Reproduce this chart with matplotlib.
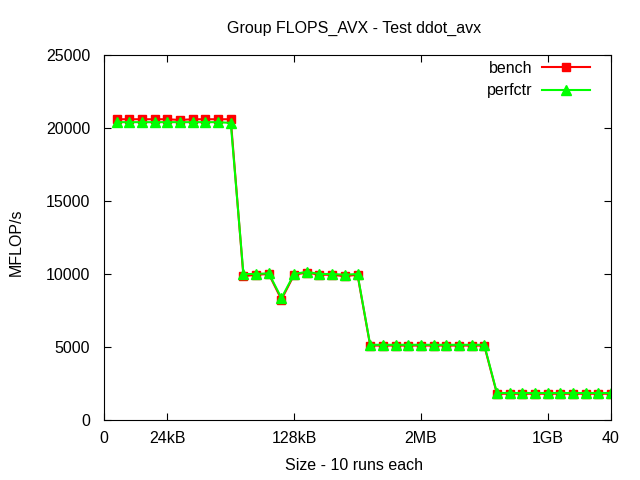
import matplotlib
matplotlib.use("Agg")
import matplotlib.pyplot as plt

plt.rcParams['font.family'] = ['Liberation Sans', 'DejaVu Sans']

x = list(range(1, 41))
bench = [20600, 20600, 20600, 20600, 20600, 20550, 20600, 20600, 20600, 20600,
         9850, 9950, 10000, 8250, 9950, 10100, 9950, 9950, 9850, 9950,
         5100, 5100, 5100, 5100, 5100, 5100, 5100, 5100, 5100, 5100,
         1800, 1800, 1800, 1800, 1800, 1800, 1800, 1800, 1800, 1800]
perfctr = [20400, 20400, 20400, 20400, 20400, 20400, 20400, 20400, 20400, 20350,
           10000, 10000, 10050, 8350, 10000, 10150, 10000, 10000, 9950, 10000,
           5150, 5150, 5150, 5150, 5150, 5150, 5150, 5150, 5150, 5150,
           1850, 1850, 1850, 1850, 1850, 1850, 1850, 1850, 1850, 1850]
xticks = [0, 5, 15, 25, 35, 40]
xticklabels = ['0', '24kB', '128kB', '2MB', '1GB', '40']
yticks = [0, 5000, 10000, 15000, 20000, 25000]

FS = 11.5
fig = plt.figure(figsize=(6.4, 4.8), dpi=100)
ax = fig.add_axes([104/640, 60/480, 507/640, 365/480])
ax.plot(x, bench, color='#ff0000', lw=1.5, marker='s', ms=5.5, label='bench')
ax.plot(x, perfctr, color='#00ff00', lw=1.5, marker='^', ms=6.5, label='perfctr')
ax.set_xlim(0, 40)
ax.set_ylim(0, 25000)
ax.set_xticks(xticks)
ax.set_xticklabels(xticklabels)
ax.set_yticks(yticks)
ax.tick_params(direction='in', top=True, right=True, labelsize=FS, length=5)
ax.tick_params(axis='y', pad=10)
ax.tick_params(axis='x', pad=8)
fig.text(354/640, 1 - 28/480, 'Group FLOPS_AVX - Test ddot_avx', fontsize=FS,
         ha='center', va='center')
fig.text(354/640, 1 - 465/480, 'Size - 10 runs each', fontsize=FS,
         ha='center', va='center')
fig.text(16/640, 1 - 242/480, 'MFLOP/s', fontsize=FS, rotation=90,
         ha='center', va='center')
ax.legend(loc='upper right', frameon=False, markerfirst=False, fontsize=FS,
          handlelength=3.0, handletextpad=0.6, borderaxespad=0, borderpad=0,
          labelspacing=0.45, bbox_to_anchor=(1 - 21/507, 1 - 6/365))
fig.savefig('out.png', dpi=100)
